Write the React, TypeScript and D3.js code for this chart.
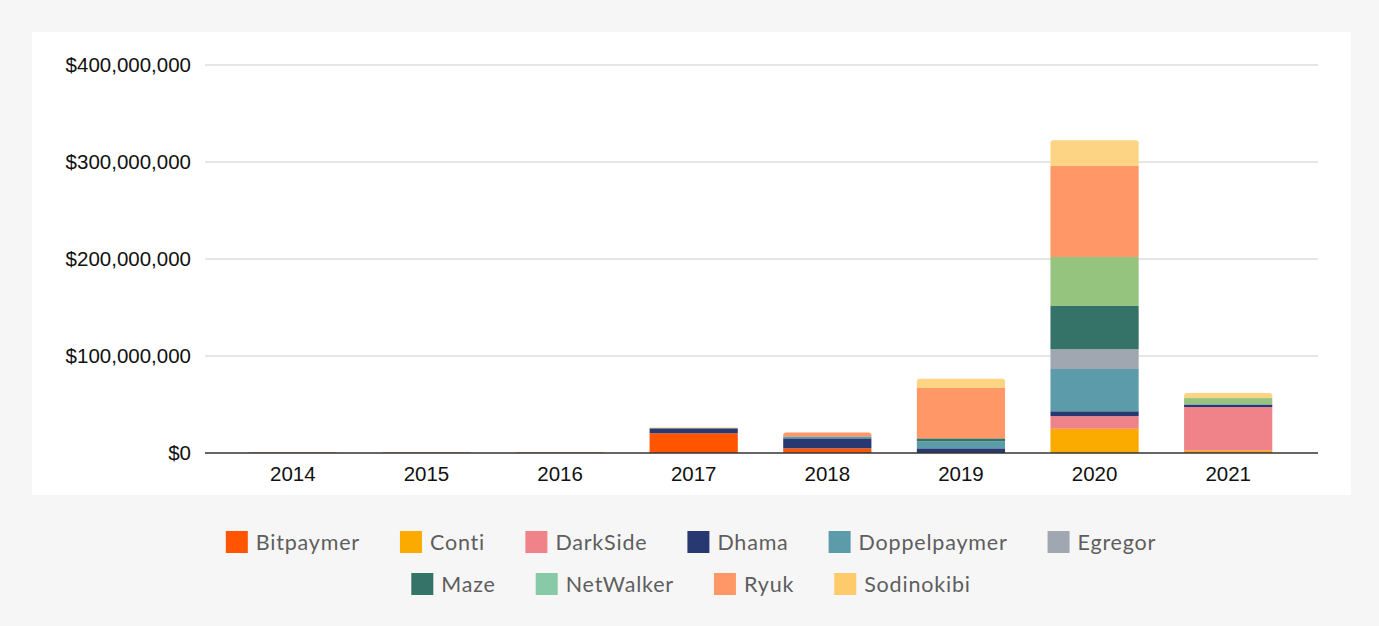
import React from 'react';
import * as d3 from 'd3';

// years on the x axis
const years = ['2014', '2015', '2016', '2017', '2018', '2019', '2020', '2021'];

// ransomware families, stacked bottom to top (values in $ millions)
const families = ['Bitpaymer', 'Conti', 'DarkSide', 'Dhama', 'Doppelpaymer', 'Egregor', 'Maze', 'NetWalker', 'Ryuk', 'Sodinokibi'];
const bitpaymer = [0, 0, 0, 20.3, 4.8, 0, 0, 0];
const conti = [0, 0, 0, 0, 0, 0, 25, 2.4];
const darkside = [0, 0, 0, 0, 0, 0, 13, 45];
const dhama = [0, 0, 0, 5.2, 10.3, 4.8, 5, 2.4];
const doppelpaymer = [0, 0, 0, 0, 2, 7.2, 43.6, 0.6];
const egregor = [0, 0, 0, 0, 0, 0, 20.3, 0];
const maze = [0, 0, 0, 0, 0, 3.1, 44.7, 0];
const netwalker = [0, 0, 0, 0, 0, 0, 50.5, 6.2];
const ryuk = [0.8, 0.8, 0.8, 0, 4.1, 52, 93.8, 0];
const sodinokibi = [0, 0, 0, 0.9, 0, 9.5, 26.5, 5.2];

const seriesValues = [bitpaymer, conti, darkside, dhama, doppelpaymer, egregor, maze, netwalker, ryuk, sodinokibi];
const barColors = ['#FF5400', '#FBAA00', '#F0838A', '#283871', '#5C9BA9', '#A0A7B0', '#357368', '#94C47D', '#FF9866', '#FDD483'];
const legendColors = ['#FF5400', '#FBAA00', '#F0838A', '#283871', '#5C9BA9', '#A0A7B0', '#357368', '#88C9A8', '#FF9866', '#FDCB6A'];

const yTicks = [0, 100, 200, 300, 400];

// legend rows: family index lists
const legendRows = [[0, 1, 2, 3, 4, 5], [6, 7, 8, 9]];

const LEGEND_FONT = 21.5;
const LEGEND_LS = 0.8;

let ctx: CanvasRenderingContext2D | null = null;
const textWidth = (s: string) => {
  if (!ctx) ctx = document.createElement('canvas').getContext('2d');
  if (!ctx) return s.length * 12;
  ctx.font = `${LEGEND_FONT}px Lato`;
  return ctx.measureText(s).width + s.length * LEGEND_LS;
};

const App = () => {
  const W = 1379;
  const H = 626;

  const x = d3.scaleBand().domain(years).range([226, 1295]).paddingInner(0.34).paddingOuter(0.17);
  const y = d3.scaleLinear().domain([0, 400]).range([453, 65]);

  const table = years.map((yr, i) => {
    const row: any = { year: yr };
    families.forEach((f, j) => (row[f] = seriesValues[j][i]));
    return row;
  });
  const stacked = d3.stack().keys(families)(table);

  // topmost non-zero segment per year gets rounded corners
  const topIdx = years.map((_, i) => {
    let t = -1;
    seriesValues.forEach((s, j) => { if (s[i] > 0) t = j; });
    return t;
  });

  const roundTop = (x0: number, y0: number, w: number, h: number, r: number) => {
    const rr = Math.min(r, h);
    return `M${x0},${y0 + h}V${y0 + rr}Q${x0},${y0} ${x0 + rr},${y0}H${x0 + w - rr}Q${x0 + w},${y0} ${x0 + w},${y0 + rr}V${y0 + h}Z`;
  };

  const fmt = (v: number) => '$' + d3.format(',')(v * 1e6);

  const itemGap = 40;
  const swatch = 22;
  const swatchPad = 8;

  return (
    <svg width={W} height={H} style={{ position: 'absolute', left: 0, top: 0 }}>
      <rect width={W} height={H} fill="#F6F6F6" />
      <rect x={32} y={32} width={1319} height={463} fill="#FFFFFF" />

      {yTicks.map(t => (
        <g key={t}>
          {t > 0 && <line x1={205} x2={1318} y1={y(t)} y2={y(t)} stroke="#CCCCCC" strokeWidth={1} />}
          <text x={191} y={y(t)} dy="0.35em" textAnchor="end" fontFamily="Liberation Sans, Arial, sans-serif" fontSize={20.5} fill="#111">
            {fmt(t)}
          </text>
        </g>
      ))}

      {stacked.map((layer, j) => (
        <g key={families[j]} fill={barColors[j]}>
          {layer.map((d, i) => {
            const v = d[1] - d[0];
            if (v <= 0) return null;
            const x0 = x(years[i]) as number;
            const y0 = y(d[1]);
            const h = y(d[0]) - y(d[1]);
            if (topIdx[i] === j) {
              return <path key={i} d={roundTop(x0, y0, x.bandwidth(), h, 3)} />;
            }
            return <rect key={i} x={x0} y={y0} width={x.bandwidth()} height={h} />;
          })}
        </g>
      ))}

      <line x1={205} x2={1318} y1={y(0)} y2={y(0)} stroke="#333333" strokeWidth={1.5} />

      {years.map(yr => (
        <text key={yr} x={(x(yr) as number) + x.bandwidth() / 2} y={481} textAnchor="middle" fontFamily="Liberation Sans, Arial, sans-serif" fontSize={20.5} fill="#111">
          {yr}
        </text>
      ))}

      {legendRows.map((row, r) => {
        const widths = row.map(j => swatch + swatchPad + textWidth(families[j]));
        const total = d3.sum(widths) + itemGap * (row.length - 1);
        let cx = 691 - total / 2;
        const cy = 542 + r * 42;
        return (
          <g key={r}>
            {row.map((j, k) => {
              const gx = cx;
              cx += widths[k] + itemGap;
              return (
                <g key={families[j]}>
                  <rect x={gx} y={cy - 11} width={swatch} height={swatch} fill={legendColors[j]} />
                  <text x={gx + swatch + swatchPad} y={cy} dy="0.35em" fontFamily="Lato, sans-serif" fontSize={LEGEND_FONT} letterSpacing={LEGEND_LS} fill="#5E5E5E">
                    {families[j]}
                  </text>
                </g>
              );
            })}
          </g>
        );
      })}
    </svg>
  );
};

export default App;
